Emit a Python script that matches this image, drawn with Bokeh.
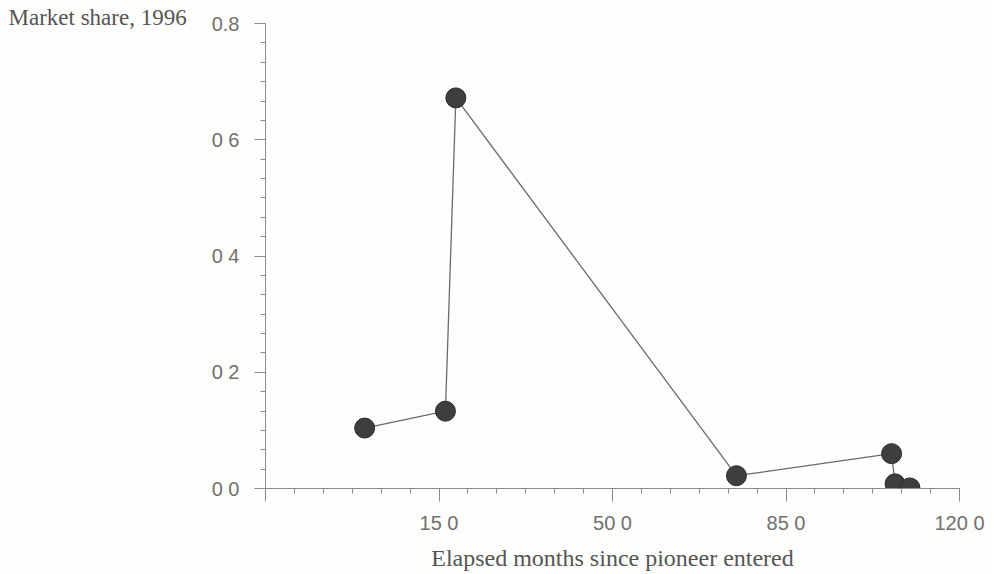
import numpy as np
from bokeh.plotting import figure
from bokeh.models import FixedTicker, Range1d, Title
from bokeh.embed import file_html
from bokeh.resources import INLINE

# Data
months = [0.0, 16.3, 18.4, 75.0, 106.3, 107.0, 110.0]
share = [0.104, 0.133, 0.672, 0.022, 0.060, 0.008, 0.001]

x_ticks = [-20, 15, 50, 85, 120]
x_tick_labels = {-20: "", 15: "15 0", 50: "50 0", 85: "85 0", 120: "120 0"}
y_ticks = [0.0, 0.2, 0.4, 0.6, 0.8]
y_tick_labels = {0.0: "0 0", 0.2: "0 2", 0.4: "0 4", 0.6: "0 6", 0.8: "0.8"}

x_title = "Elapsed months since pioneer entered"
y_title = "Market share, 1996"

p = figure(width=986, height=574, output_backend="svg", toolbar_location=None,
           x_range=Range1d(-20, 120), y_range=Range1d(0, 0.8),
           min_border_left=265, min_border_right=27, min_border_top=23,
           min_border_bottom=86)
p.outline_line_color = None
p.grid.visible = False
p.background_fill_color = "#fdfdfb"
p.border_fill_color = "#fdfdfb"

p.line(months, share, line_color="#6a6a6a", line_width=1.3)
p.scatter(months, share, size=20, fill_color="#3e3e3e", line_color="#2a2a2a", line_width=1)

x_minor = list(np.linspace(-20, 120, 25))
y_minor = list(np.linspace(0, 0.8, 25))

xa = p.xaxis[0]
xa.ticker = FixedTicker(ticks=x_ticks, minor_ticks=x_minor)
xa.major_label_overrides = x_tick_labels
ya = p.yaxis[0]
ya.ticker = FixedTicker(ticks=y_ticks, minor_ticks=y_minor)
ya.major_label_overrides = y_tick_labels

for ax in (xa, ya):
    ax.axis_line_color = "#8a8a8a"
    ax.major_tick_line_color = "#8a8a8a"
    ax.minor_tick_line_color = "#8a8a8a"
    ax.major_tick_in = 0
    ax.minor_tick_in = 0
    ax.major_label_text_font = "Liberation Sans"
    ax.major_label_text_font_size = "20px"
    ax.major_label_text_color = "#707070"

xa.major_tick_out = 13
xa.minor_tick_out = 5
xa.major_label_standoff = 10
ya.major_tick_out = 11
ya.minor_tick_out = 5
ya.major_label_standoff = 15

xa.axis_label = x_title
xa.axis_label_text_font = "Liberation Serif"
xa.axis_label_text_font_style = "normal"
xa.axis_label_text_font_size = "24px"
xa.axis_label_text_color = "#555555"
xa.axis_label_standoff = 8

t = Title(text=y_title, align="left", offset=-257, standoff=-13,
          text_font="Liberation Serif", text_font_size="23px",
          text_font_style="normal", text_color="#555555")
p.add_layout(t, "above")

open("out.html", "w").write(file_html(p, INLINE))
